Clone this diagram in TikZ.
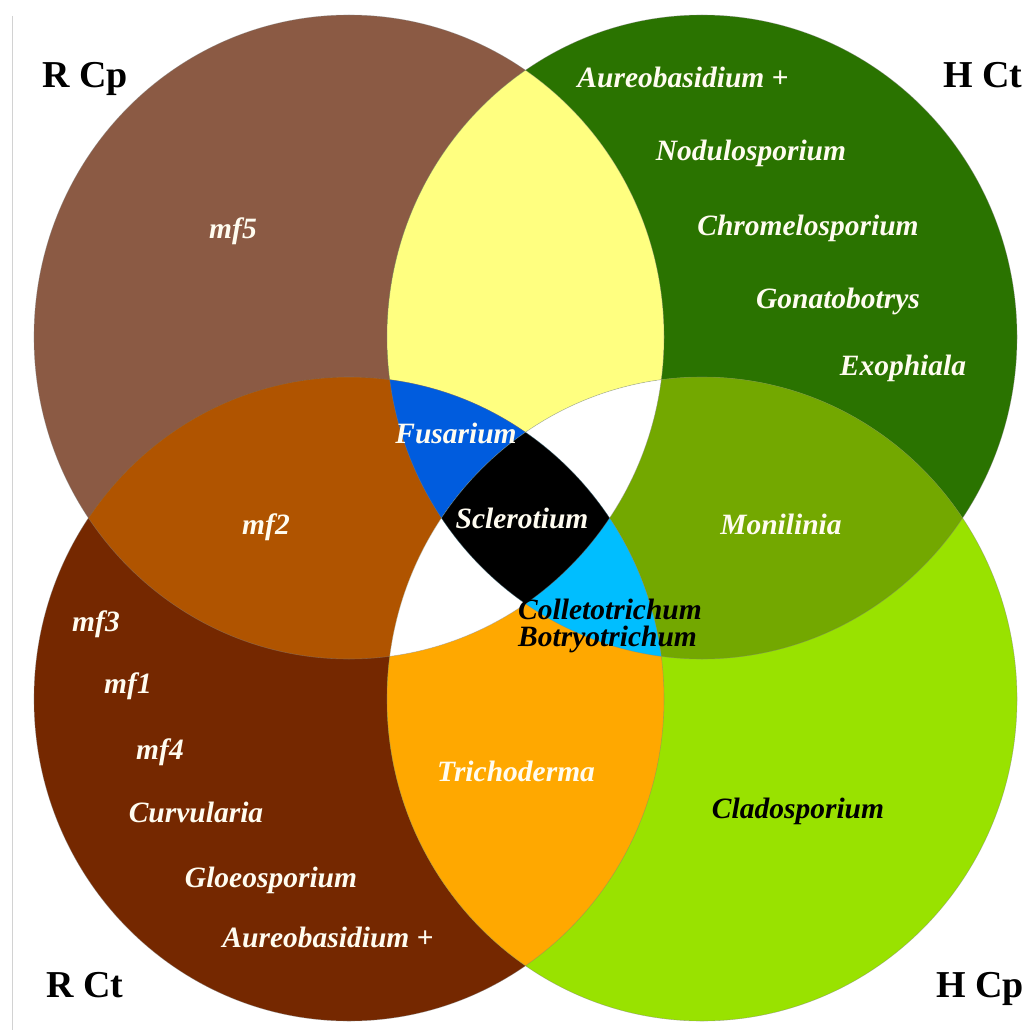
\documentclass[tikz,border=0pt]{standalone}
\usepackage{fontspec}
\setmainfont{Liberation Serif}
\definecolor{cTL}{RGB}{139,90,68}
\definecolor{cTR}{RGB}{42,115,0}
\definecolor{cBL}{RGB}{117,40,0}
\definecolor{cBR}{RGB}{153,226,0}
\definecolor{cTLTR}{RGB}{255,255,128}
\definecolor{cTLBL}{RGB}{176,84,0}
\definecolor{cTRBR}{RGB}{115,168,0}
\definecolor{cBLBR}{RGB}{255,168,0}
\definecolor{cBlue}{RGB}{0,92,222}
\definecolor{cCyan}{RGB}{0,190,255}
\definecolor{cText}{RGB}{255,252,240}
\begin{document}
\begin{tikzpicture}[x=1pt,y=-1pt,
  lab/.style={font=\fontsize{29.5}{30}\selectfont\bfseries\itshape, text=cText, inner sep=0pt, text height=20pt, text depth=0pt},
  dlab/.style={lab, text=black},
  corner/.style={font=\fontsize{38}{40}\selectfont\bfseries, text=black, inner sep=0pt, text height=25pt, text depth=0pt},
  edge/.style={draw=gray, draw opacity=0.45, line width=0.6pt}]
\def\pTL{(349,337) ellipse [x radius=315, y radius=322]}
\def\pTR{(702,337) ellipse [x radius=315, y radius=322]}
\def\pBL{(349,699) ellipse [x radius=315, y radius=322]}
\def\pBR{(702,699) ellipse [x radius=315, y radius=322]}
\fill[white] (0,0) rectangle (1024,1030);
\useasboundingbox (0,0) rectangle (1024,1030);
\draw[gray!35, line width=0.8pt] (12,16) -- (12,1030);
% single sets
\fill[cTL] \pTL;
\fill[cTR] \pTR;
\fill[cBL] \pBL;
\fill[cBR] \pBR;
% pairs
\begin{scope}\clip \pTL; \fill[cTLTR] \pTR; \end{scope}
\begin{scope}\clip \pTL; \fill[cTLBL] \pBL; \end{scope}
\begin{scope}\clip \pTR; \fill[cTRBR] \pBR; \end{scope}
\begin{scope}\clip \pBL; \fill[cBLBR] \pBR; \end{scope}
% triples
\begin{scope}\clip \pTL; \clip \pTR; \fill[cBlue] \pBL; \end{scope}
\begin{scope}\clip \pTL; \clip \pTR; \fill[white] \pBR; \end{scope}
\begin{scope}\clip \pTL; \clip \pBL; \fill[white] \pBR; \end{scope}
\begin{scope}\clip \pTR; \clip \pBL; \fill[cCyan] \pBR; \end{scope}
% all four
\begin{scope}\clip \pTL; \clip \pTR; \clip \pBL; \fill[black] \pBR; \end{scope}
% outlines
\path[edge] \pTL; \path[edge] \pTR; \path[edge] \pBL; \path[edge] \pBR;
% corner labels
\node[corner] (rcp) at (85,75) {R Cp};
\node[corner] (hct) at (983,75) {H Ct};
\node[corner] (rct) at (85,985) {R Ct};
\node[corner] (hcp) at (980,985) {H Cp};
% top right
\node[lab] (aur1) at (683,78) {Aureobasidium +};
\node[lab] (nod) at (751,150) {Nodulosporium};
\node[lab] (chr) at (808,225) {Chromelosporium};
\node[lab] (gon) at (838,298) {Gonatobotrys};
\node[lab] (exo) at (903,365) {Exophiala};
% top left
\node[lab] (mf5) at (233,228) {mf5};
\node[lab] (mf2) at (266,524) {mf2};
% centre
\node[lab] (fus) at (456,433) {Fusarium};
\node[lab] (scl) at (522,518) {Sclerotium};
\node[lab] (mon) at (781,524) {Monilinia};
\node[dlab, anchor=west] (col) at (518,609) {Colletotrichum};
\node[dlab, anchor=west] (bot) at (518,636) {Botryotrichum};
% bottom left
\node[lab] (mf3) at (96,621) {mf3};
\node[lab] (mf1) at (128,683) {mf1};
\node[lab] (mf4) at (160,749) {mf4};
\node[lab] (cur) at (196,812) {Curvularia};
\node[lab] (glo) at (271,877) {Gloeosporium};
\node[lab] (aur2) at (328,937) {Aureobasidium +};
% bottom
\node[lab] (tri) at (516,771) {Trichoderma};
\node[dlab] (cla) at (798,808) {Cladosporium};
\end{tikzpicture}
\end{document}
